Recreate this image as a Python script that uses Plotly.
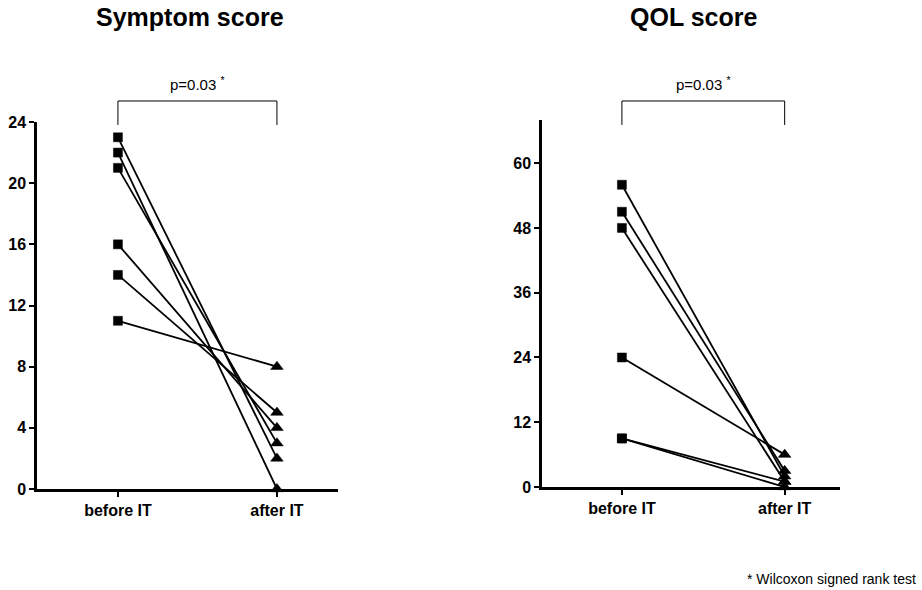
import plotly.graph_objects as go

categories = ["before IT", "after IT"]
symptom_before = [23, 22, 21, 16, 14, 11]
symptom_after = [2, 0, 3, 4, 5, 8]
qol_before = [56, 51, 48, 24, 9, 9]
qol_after = [2, 3, 1, 6, 1, 0]
symptom_ticks = [0, 4, 8, 12, 16, 20, 24]
qol_ticks = [0, 12, 24, 36, 48, 60]

W, H = 922, 590
FONT = "Arial, Liberation Sans, sans-serif"

def px(x):
    return x / W

def py(y):
    return 1 - y / H

fig = go.Figure()
xpos = list(range(len(categories)))

marker_style = dict(symbol=["square", "triangle-up"], size=[9, 11], color="black",
                    opacity=1, line=dict(color="black", width=0.5))

for b, a in zip(symptom_before, symptom_after):
    fig.add_trace(go.Scatter(
        x=xpos, y=[b, a], mode="lines+markers", xaxis="x", yaxis="y",
        line=dict(color="black", width=1.8), marker=marker_style,
        cliponaxis=False, showlegend=False, hoverinfo="skip"))

for b, a in zip(qol_before, qol_after):
    fig.add_trace(go.Scatter(
        x=xpos, y=[b, a], mode="lines+markers", xaxis="x2", yaxis="y2",
        line=dict(color="black", width=1.8), marker=marker_style,
        cliponaxis=False, showlegend=False, hoverinfo="skip"))

axis_common = dict(showline=True, linecolor="black", linewidth=2.5, ticks="outside",
                   tickcolor="black", showgrid=False, zeroline=False, automargin=False)

fig.update_layout(
    width=W, height=H, margin=dict(l=0, r=0, t=0, b=0, autoexpand=False),
    paper_bgcolor="white", plot_bgcolor="white",
    xaxis=dict(domain=[px(37), px(338)], range=[-0.509, 1.384], anchor="y",
               tickvals=xpos, ticktext=["<b>%s</b>" % c for c in categories],
               ticklen=5, tickwidth=1.5, tickfont=dict(family=FONT, size=16, color="black"),
               **axis_common),
    yaxis=dict(domain=[py(489), py(122)], range=[0, 24], anchor="x",
               tickvals=symptom_ticks, ticktext=["<b>%d</b>" % t for t in symptom_ticks],
               ticklen=5, tickwidth=2, tickfont=dict(family=FONT, size=16, color="black"),
               **axis_common),
    xaxis2=dict(domain=[px(542), px(840)], range=[-0.491, 1.34], anchor="y2",
                tickvals=xpos, ticktext=["<b>%s</b>" % c for c in categories],
                ticklen=5, tickwidth=1.5, tickfont=dict(family=FONT, size=16, color="black"),
                **axis_common),
    yaxis2=dict(domain=[py(487), py(120)], range=[0, 68], anchor="x2",
                tickvals=qol_ticks, ticktext=["<b>%d</b>" % t for t in qol_ticks],
                ticklen=5, tickwidth=2, tickfont=dict(family=FONT, size=16, color="black"),
                **axis_common),
)

for xr in ["x", "x2"]:
    fig.add_shape(type="path", xref=xr, yref="paper",
                  path="M 0,%f L 0,%f L 1,%f L 1,%f" % (py(125), py(101), py(101), py(125)),
                  line=dict(color="black", width=1))
    fig.add_annotation(xref=xr, yref="paper", x=0.5, y=py(83), xanchor="center", yanchor="middle",
                       text="p=0.03 <sup>*</sup>",
                       showarrow=False, font=dict(family=FONT, size=15, color="black"))

fig.add_annotation(xref="paper", yref="paper", x=px(190), y=py(17), xanchor="center", yanchor="middle",
                   text="<b>Symptom score</b>",
                   showarrow=False, font=dict(family=FONT, size=25, color="black"))
fig.add_annotation(xref="paper", yref="paper", x=px(693), y=py(17), xanchor="center", yanchor="middle",
                   text="<b>QOL score</b>",
                   showarrow=False, font=dict(family=FONT, size=25, color="black"))
fig.add_annotation(xref="paper", yref="paper", x=px(918), y=py(579), xanchor="right", yanchor="middle",
                   text="* Wilcoxon signed rank test",
                   showarrow=False, font=dict(family=FONT, size=14, color="black"))

post = """
document.documentElement.style.margin='0';
document.body.style.margin='0';
document.body.style.padding='0';
"""

fig.write_html("out.html", config={"displayModeBar": False}, post_script=post)
